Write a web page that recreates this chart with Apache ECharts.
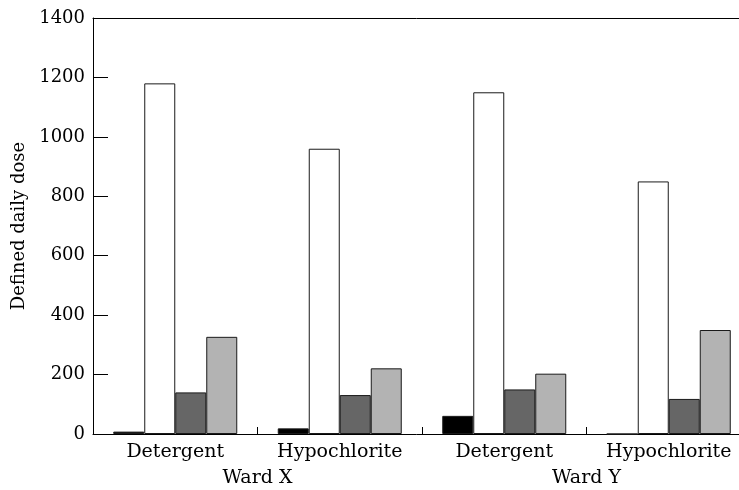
<!DOCTYPE html>
<html><head><meta charset="utf-8">
<script src="https://cdn.jsdelivr.net/npm/echarts@6/dist/echarts.min.js"></script>
<style>html,body{margin:0;padding:0;background:#fff}#c{width:739px;height:490px}</style>
</head><body><div id="c"></div>
<script>
const categories = ['Detergent', 'Hypochlorite', 'Detergent', 'Hypochlorite'];
const wards = ['Ward X', 'Ward Y'];
const seriesBlack = [8, 19, 61, 0];
const seriesWhite = [1180, 960, 1150, 850];
const seriesDark = [140, 131, 150, 118];
const seriesLight = [327, 221, 203, 350];
const yTicks = { min: 0, max: 1400, interval: 200 };

const font = 'DejaVu Serif';
const chart = echarts.init(document.getElementById('c'));
const mk = (name, data, color) => ({
  name, type: 'bar', data, xAxisIndex: 0, barWidth: 31, barGap: '0%',
  itemStyle: { color, borderColor: '#1a1a1a', borderWidth: 1 },
  animation: false
});
chart.setOption({
  animation: false,
  grid: { left: 93, right: -12, top: 18, bottom: 56, containLabel: false, outerBoundsMode: 'none' },
  xAxis: [
    { type: 'category', data: categories, position: 'bottom',
      axisLine: { lineStyle: { color: '#000', width: 1 } },
      axisTick: { show: true, inside: true, length: 7, lineStyle: { color: '#000' } },
      axisLabel: { color: '#000', fontFamily: font, fontSize: 19, margin: 9 } },
    { type: 'category', data: wards, position: 'bottom',
      axisLine: { show: false }, axisTick: { show: false },
      axisLabel: { color: '#000', fontFamily: font, fontSize: 19, margin: 35 } },
    { type: 'category', data: wards, position: 'top',
      axisLine: { show: true, lineStyle: { color: '#000', width: 1 } },
      axisTick: { show: false }, axisLabel: { show: false } }
  ],
  yAxis: {
    type: 'value', min: yTicks.min, max: yTicks.max, interval: yTicks.interval,
    name: 'Defined daily dose', nameLocation: 'middle', nameGap: 56,
    nameTextStyle: { color: '#000', fontFamily: font, fontSize: 18 },
    axisLine: { show: true, lineStyle: { color: '#000', width: 1 } },
    axisTick: { show: true, inside: true, length: 15, lineStyle: { color: '#000' } },
    axisLabel: { color: '#000', fontFamily: font, fontSize: 18, margin: 8, formatter: v => String(v) },
    splitLine: { show: false }
  },
  series: [
    mk('Black', seriesBlack, '#000000'),
    mk('White', seriesWhite, '#ffffff'),
    mk('Dark', seriesDark, '#666666'),
    mk('Light', seriesLight, '#b3b3b3')
  ]
});
</script></body></html>
